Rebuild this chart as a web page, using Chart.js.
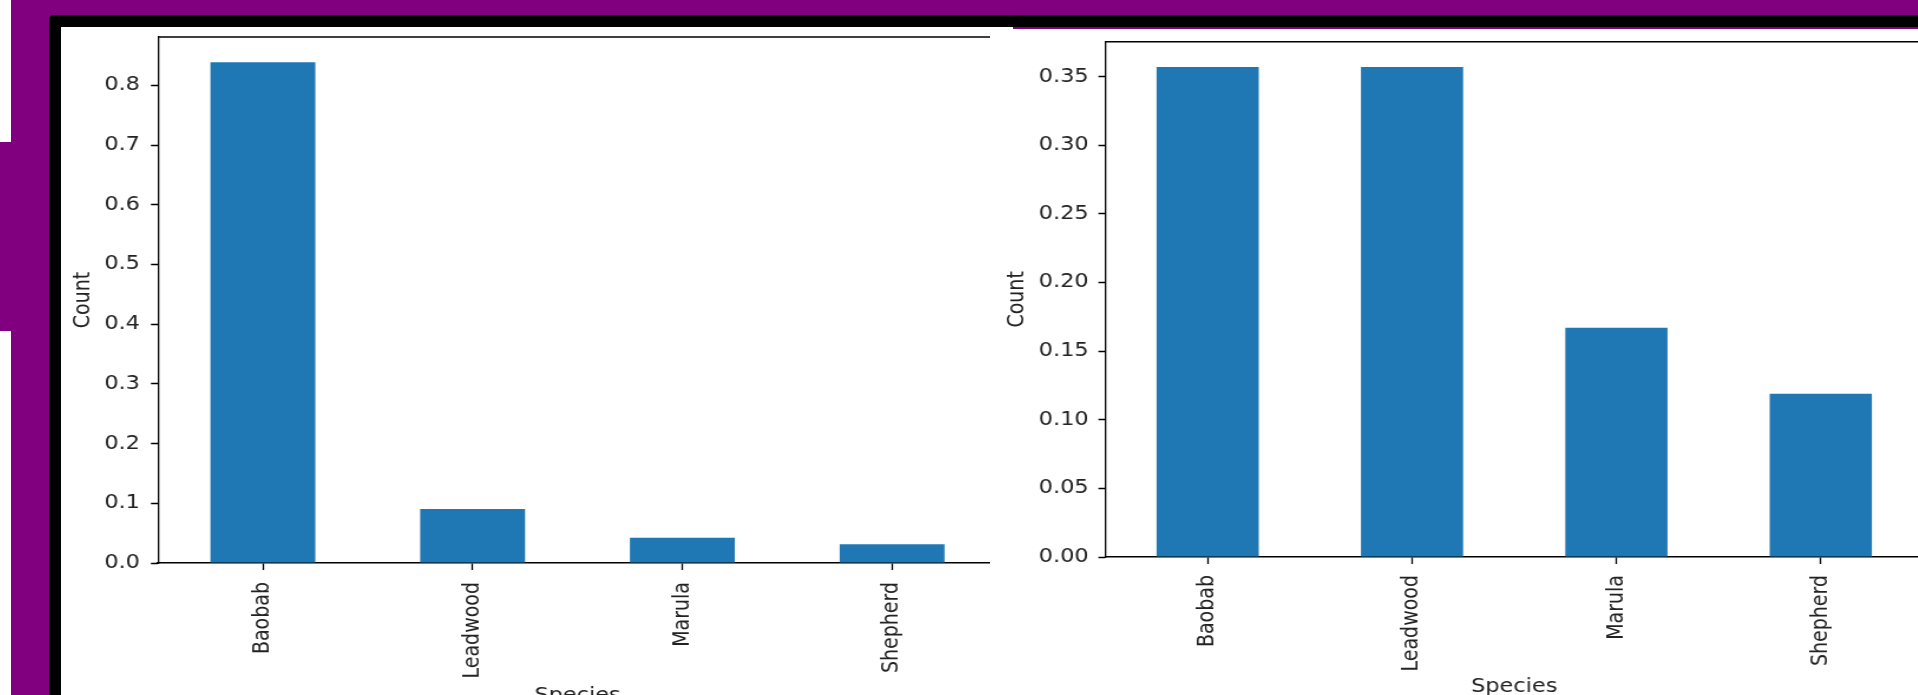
<!DOCTYPE html>
<html lang="en">
  <head>
    <meta charset="utf-8">
    <title>Species share</title>
    <style>
      html, body {
        margin: 0;
        padding: 0;
        width: 1918px;
        height: 695px;
        overflow: hidden;
        background: #fff;
      }
      .purple-bg {
        position: absolute;
        left: 11px;
        top: 0;
        width: 1907px;
        height: 695px;
        background: #800080;
      }
      .purple-tab {
        position: absolute;
        left: 0;
        top: 142px;
        width: 11px;
        height: 189px;
        background: #800080;
      }
      .frame {
        position: absolute;
        left: 49px;
        top: 15px;
        width: 1857px;
        height: 668px;
        border-top: 12px solid #000;
        border-left: 12px solid #000;
        border-top-left-radius: 5px;
        background: #fff;
      }
      .purple-line {
        position: absolute;
        left: 1013px;
        top: 27px;
        width: 905px;
        height: 2px;
        background: #800080;
      }
      .left-clip {
        position: absolute;
        left: 61px;
        top: 27px;
        width: 929px;
        height: 668px;
        overflow: hidden;
      }
      /* the screenshot shows both plots a little stretched sideways */
      canvas {
        transform: scaleX(1.18);
        transform-origin: 0 0;
      }
      #left-plot {
        position: absolute;
        left: 0;
        top: 0;
      }
      #right-plot {
        position: absolute;
        left: 995px;
        top: 30px;
      }
    </style>
    <script src="https://cdn.jsdelivr.net/npm/chart.js@4.4.4/dist/chart.umd.min.js"></script>
  </head>
  <body>
    <div class="purple-bg"></div>
    <div class="purple-tab"></div>
    <div class="frame"></div>
    <div class="purple-line"></div>
    <div class="left-clip">
      <canvas id="left-plot" width="802" height="680"></canvas>
    </div>
    <canvas id="right-plot" width="791" height="668"></canvas>
    <script>
      const species = ['Baobab', 'Leadwood', 'Marula', 'Shepherd'];
      const left_values = [0.8385, 0.0905, 0.0425, 0.0315];
      const right_values = [0.357, 0.357, 0.167, 0.119];
      const left_ticks = [0, 0.1, 0.2, 0.3, 0.4, 0.5, 0.6, 0.7, 0.8];
      const right_ticks = [0, 0.05, 0.10, 0.15, 0.20, 0.25, 0.30, 0.35];
      const left_max = 0.881;
      const right_max = 0.3755;

      const text_color = '#222';
      const font = { family: 'DejaVu Sans', size: 19 };

      // matplotlib draws all four spines, chart.js only the two axis borders
      const spines = {
        id: 'spines',
        afterDraw(chart) {
          const area = chart.chartArea;
          const ctx = chart.ctx;
          ctx.save();
          ctx.strokeStyle = '#000';
          ctx.lineWidth = 1.5;
          ctx.beginPath();
          ctx.moveTo(area.left, area.top);
          ctx.lineTo(area.right, area.top);
          ctx.stroke();
          ctx.lineWidth = 1.3;
          ctx.beginPath();
          ctx.moveTo(area.right, area.top);
          ctx.lineTo(area.right, area.bottom);
          ctx.stroke();
          ctx.restore();
        }
      };

      function makePlot(id, values, ticks, y_max, decimals, box) {
        return new Chart(document.getElementById(id), {
          type: 'bar',
          data: {
            labels: species,
            datasets: [{
              data: values,
              backgroundColor: '#1f77b4',
              borderWidth: 0,
              barPercentage: 0.5,
              categoryPercentage: 1.0
            }]
          },
          plugins: [spines],
          options: {
            responsive: false,
            animation: false,
            layout: {
              padding: { top: box.top, right: box.right, left: 0, bottom: 0 }
            },
            plugins: {
              legend: { display: false },
              tooltip: { enabled: false }
            },
            scales: {
              x: {
                offset: true,
                border: { display: true, color: '#000', width: 1.5 },
                grid: {
                  offset: false,
                  drawOnChartArea: false,
                  drawTicks: true,
                  tickLength: 7,
                  tickWidth: 1.3,
                  tickColor: '#000'
                },
                ticks: {
                  color: text_color,
                  font: font,
                  minRotation: 90,
                  maxRotation: 90,
                  autoSkip: false,
                  padding: box.x_pad
                },
                title: {
                  display: true,
                  text: 'Species',
                  color: text_color,
                  font: font,
                  padding: 0
                },
                afterFit: function(scale) {
                  scale.height = box.x_height;
                  scale.paddingLeft = 0;
                  scale.paddingRight = 0;
                }
              },
              y: {
                min: 0,
                max: y_max,
                border: { display: true, color: '#000', width: 1.3 },
                grid: {
                  drawOnChartArea: false,
                  drawTicks: true,
                  tickLength: 6,
                  tickWidth: 1.5,
                  tickColor: '#000'
                },
                ticks: {
                  color: text_color,
                  font: font,
                  padding: box.y_pad,
                  callback: function(value) {
                    return Number(value).toFixed(decimals);
                  }
                },
                afterBuildTicks: function(scale) {
                  scale.ticks = ticks.map(v => ({ value: v }));
                },
                title: {
                  display: true,
                  text: 'Count',
                  color: text_color,
                  font: font,
                  padding: { top: box.title_pad, bottom: 0 }
                },
                afterFit: function(scale) {
                  scale.width = box.y_width;
                  scale.paddingTop = 0;
                  scale.paddingBottom = 0;
                }
              }
            }
          }
        });
      }

      makePlot('left-plot', left_values, left_ticks, left_max, 1, {
        top: 10, right: 8.8, x_height: 144, y_width: 82.2,
        x_pad: 12, y_pad: 9.3, title_pad: 7.7
      });
      makePlot('right-plot', right_values, right_ticks, right_max, 2, {
        top: 11.7, right: 4.6, x_height: 141, y_width: 93.6,
        x_pad: 11, y_pad: 8.2, title_pad: 7.2
      });
    </script>
  </body>
</html>
